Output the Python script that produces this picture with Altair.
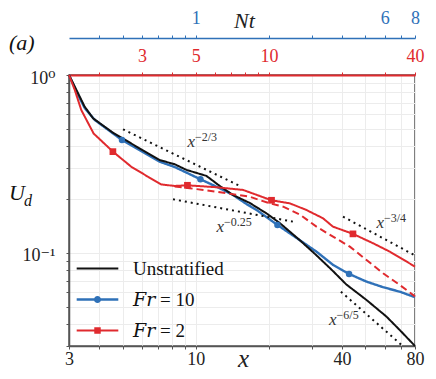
import altair as alt
import pandas as pd

# ---------------- data ----------------
SERIES = ["Unstratified", "Fr = 10", "Fr = 2"]
COLORS = ["#111111", "#2f71b8", "#e02a2e"]
BLUE, RED = COLORS[1], COLORS[2]

uns_x = [3.0, 3.27, 3.48, 3.77, 4.55, 6.35, 7.09, 8.18, 9.14, 11.05, 12.54, 14.19, 16.67,
         19.53, 22.2, 26.8, 31.4, 36.6, 41.7, 50.5, 61.0, 69.2, 80.0]
uns_y = [1.0, 0.789, 0.664, 0.571, 0.474, 0.363, 0.333, 0.315, 0.293, 0.271, 0.238, 0.212, 0.191,
         0.167, 0.147, 0.118, 0.097, 0.0795, 0.0665, 0.0544, 0.0439, 0.0369, 0.030]

fr10_x = [3.0, 3.27, 3.48, 3.83, 4.96, 6.35, 7.09, 8.18, 10.44, 12.54, 14.2, 16.15, 17.77,
          21.68, 26.8, 31.4, 36.75, 42.8, 50.5, 59.1, 69.2, 80.0]
fr10_y = [1.0, 0.772, 0.653, 0.559, 0.431, 0.355, 0.326, 0.304, 0.2595, 0.231, 0.212, 0.1885, 0.1745,
          0.1437, 0.118, 0.1017, 0.0857, 0.0762, 0.069, 0.0642, 0.0606, 0.0564]

fr2_x = [3.0, 3.17, 3.37, 3.79, 4.55, 5.42, 6.35, 7.21, 8.18, 9.23, 12.15, 15.65, 20.5,
         24.4, 28.5, 33.4, 36.75, 44.4, 53.7, 63.0, 80.0]
fr2_y = [1.0, 0.823, 0.636, 0.469, 0.371, 0.305, 0.268, 0.2425, 0.238, 0.24, 0.234, 0.226, 0.1977,
         0.190, 0.1745, 0.1567, 0.1405, 0.128, 0.1134, 0.1017, 0.0838]

fr2d_x = [8.18, 9.43, 12.15, 16.67, 20.15, 22.9, 26.8, 31.4, 36.75, 43.1, 50.5, 59.1, 69.2, 80.0]
fr2d_y = [0.236, 0.231, 0.221, 0.207, 0.190, 0.182, 0.1645, 0.1405, 0.1235, 0.1085, 0.0913,
          0.0769, 0.0661, 0.057]

fr10_mx = [4.96, 10.44, 21.68, 42.8]
fr10_my = [0.431, 0.2595, 0.1437, 0.0762]
fr2_mx = [4.55, 9.23, 20.5, 44.4]
fr2_my = [0.371, 0.24, 0.1977, 0.128]

guide_exp = ["\u22122/3", "\u22120.25", "\u22123/4", "\u22126/5"]
guide_x1 = [5.01, 8.05, 40.4, 39.6]
guide_y1 = [0.495, 0.2003, 0.160, 0.0606]
guide_x2 = [15.16, 25.1, 80.0, 71.2]
guide_y2 = [0.238, 0.150, 0.0968, 0.030]
guide_lx = [9.23, 12.15, 55.5, 35.4]
guide_ly = [0.422, 0.1405, 0.1468, 0.0419]

x_ticks = [3, 4, 5, 6, 7, 8, 9, 10, 20, 30, 40, 50, 60, 70, 80]
x_labels = [3, 10, 40, 80]
y_ticks = [0.03, 0.04, 0.05, 0.06, 0.07, 0.08, 0.09, 0.1, 0.2, 0.3, 0.4, 0.5, 0.6, 0.7, 0.8, 0.9, 1]
nt_ticks = [0.4, 0.5, 0.6, 0.7, 0.8, 0.9, 1, 2, 3, 4, 5, 6, 7, 8]
nt_labels = [1, 6, 8]
red_ticks = [2, 3, 4, 5, 6, 7, 8, 9, 10, 20, 30, 40]
red_labels = [3, 5, 10, 40]

# ---------------- layout ----------------
W, H = 346, 271
SERIF = "Liberation Serif, DejaVu Serif, serif"

rows = []
for name, style, xs_, ys_ in [("Unstratified", "solid", uns_x, uns_y),
                              ("Fr = 10", "solid", fr10_x, fr10_y),
                              ("Fr = 2", "solid", fr2_x, fr2_y),
                              ("Fr = 2", "dashed", fr2d_x, fr2d_y)]:
    for a, b in zip(xs_, ys_):
        rows.append({"series": name, "style": style, "x": a, "y": b})
curves = pd.DataFrame(rows)

markers = pd.DataFrame(
    [{"series": "Fr = 10", "x": a, "y": b} for a, b in zip(fr10_mx, fr10_my)]
    + [{"series": "Fr = 2", "x": a, "y": b} for a, b in zip(fr2_mx, fr2_my)]
)
guides = pd.DataFrame({"x1": guide_x1, "y1": guide_y1, "x2": guide_x2, "y2": guide_y2,
                       "lx": guide_lx, "ly": guide_ly, "exp": guide_exp})

xsc = alt.Scale(type="log", domain=[3, 80], nice=False)
ysc = alt.Scale(type="log", domain=[0.03, 1], nice=False)
csc = alt.Scale(domain=SERIES, range=COLORS)


def lab_expr(vals):
    return ("indexof([" + ",".join(str(v) for v in vals) +
            "], datum.value) >= 0 ? format(datum.value, 'd') : ''")


x_axis = alt.Axis(values=x_ticks, labelExpr=lab_expr(x_labels), labelFlush=False,
                  labelOverlap=False, tickSize=3, labelPadding=15, labelBaseline="alphabetic",
                  labelFont=SERIF, labelFontSize=18, labelColor="#222",
                  title="x", titleFont=SERIF, titleFontStyle="italic", titleFontSize=25,
                  titleX=174, titleY=20, titleAlign="center", titleBaseline="alphabetic", grid=True)
y_axis = alt.Axis(values=y_ticks,
                  labelExpr="datum.value == 1 ? '10\u2070' : (abs(datum.value - 0.1) < 1e-9 ? '10\u207b\u00b9' : '')",
                  labelOverlap=False, labelFlush=False, tickSize=3, labelPadding=11, labelOffset=3,
                  labelFont=SERIF, labelFontSize=18, labelColor="#222",
                  title=None, grid=True)

layers = []
first = True
for name, style in [("Fr = 10", "solid"), ("Unstratified", "solid"), ("Fr = 2", "dashed"), ("Fr = 2", "solid")]:
    sub = curves[(curves.series == name) & (curves["style"] == style)]
    dash = [1, 0] if style == "solid" else [7, 4]
    sw = 2.4 if name == "Fr = 10" else 2.0
    layers.append(
        alt.Chart(sub).mark_line(strokeWidth=sw, strokeDash=dash).encode(
            x=alt.X("x:Q", scale=xsc, axis=x_axis if first else None),
            y=alt.Y("y:Q", scale=ysc, axis=y_axis if first else None),
            color=alt.Color("series:N", scale=csc, legend=None),
        )
    )
    first = False

guide_lines = alt.Chart(guides).mark_rule(color="#111", strokeWidth=2, strokeDash=[2, 4]).encode(
    x=alt.X("x1:Q", scale=xsc, axis=None), y=alt.Y("y1:Q", scale=ysc, axis=None),
    x2="x2:Q", y2="y2:Q")
guide_x = alt.Chart(guides).mark_text(text="x", font=SERIF, fontStyle="italic", fontSize=17,
                                      align="left", baseline="middle", color="#333").encode(
    x=alt.X("lx:Q", scale=xsc, axis=None), y=alt.Y("ly:Q", scale=ysc, axis=None))
guide_e = alt.Chart(guides).mark_text(font=SERIF, fontSize=12, align="left", baseline="middle",
                                      dx=7.5, dy=-5, color="#333").encode(
    x=alt.X("lx:Q", scale=xsc, axis=None), y=alt.Y("ly:Q", scale=ysc, axis=None), text="exp:N")

circ = alt.Chart(markers[markers.series == "Fr = 10"]).mark_circle(size=42, opacity=1).encode(
    x=alt.X("x:Q", scale=xsc, axis=None), y=alt.Y("y:Q", scale=ysc, axis=None),
    color=alt.Color("series:N", scale=csc, legend=None))
sq = alt.Chart(markers[markers.series == "Fr = 2"]).mark_square(size=45, opacity=1).encode(
    x=alt.X("x:Q", scale=xsc, axis=None), y=alt.Y("y:Q", scale=ysc, axis=None),
    color=alt.Color("series:N", scale=csc, legend=None))

PATHS = [
    "M-2,-0.1H2V0.1H-2Z",
    "M-2,-0.12H2V0.12H-2Z M0.34,0A0.34,0.34 0 1,1 -0.34,0A0.34,0.34 0 1,1 0.34,0Z",
    "M-2,-0.1H2V0.1H-2Z M-0.31,-0.31H0.31V0.31H-0.31Z",
]
leg = alt.Legend(title=None, orient="none", legendX=18, legendY=183, symbolSize=433,
                 labelFont=SERIF, labelFontSize=19, labelColor="#111", labelOffset=25,
                 rowPadding=10, padding=0, symbolStrokeWidth=0, symbolOpacity=1,
                 labelExpr="replace(datum.label, 'Fr', '\U0001D439\U0001D45F')")
legend_layer = alt.Chart(pd.DataFrame({"series": SERIES})).mark_point(filled=True, opacity=0).encode(
    x=alt.value(0), y=alt.value(0),
    color=alt.Color("series:N", scale=csc, legend=leg),
    shape=alt.Shape("series:N", scale=alt.Scale(domain=SERIES, range=PATHS), legend=leg),
)

one = pd.DataFrame({"k": [0]})
t_a = alt.Chart(one).mark_text(text="(a)", font=SERIF, fontStyle="italic", fontSize=22,
                               align="left", baseline="alphabetic", color="#111").encode(
    x=alt.value(-60), y=alt.value(-25))
t_u = alt.Chart(one).mark_text(text="U", font=SERIF, fontStyle="italic", fontSize=22,
                               align="left", baseline="alphabetic", color="#111").encode(
    x=alt.value(-60), y=alt.value(125))
t_d = alt.Chart(one).mark_text(text="d", font=SERIF, fontStyle="italic", fontSize=16,
                               align="left", baseline="alphabetic", color="#111").encode(
    x=alt.value(-45), y=alt.value(131))

nt_layer = alt.Chart(pd.DataFrame({"nt": [0.3, 8]})).mark_point(opacity=0).encode(
    x=alt.X("nt:Q", scale=alt.Scale(type="log", domain=[0.3, 8], nice=False),
            axis=alt.Axis(orient="top", offset=37, values=nt_ticks, labelExpr=lab_expr(nt_labels),
                          labelFlush=False, labelOverlap=False, grid=False, domainColor=BLUE,
                          domainWidth=1.5, tickColor=BLUE, labelColor=BLUE, tickSize=3,
                          labelPadding=12, labelBaseline="alphabetic",
                          labelFont=SERIF, labelFontSize=18,
                          title="Nt", titleFont=SERIF, titleFontStyle="italic", titleFontSize=22,
                          titleX=175, titleY=-11, titleAlign="center", titleBaseline="alphabetic")),
    y=alt.value(0))
red_layer = alt.Chart(pd.DataFrame({"r": [1.5, 40]})).mark_point(opacity=0).encode(
    x=alt.X("r:Q", scale=alt.Scale(type="log", domain=[1.5, 40], nice=False),
            axis=alt.Axis(orient="top", offset=0, values=red_ticks, labelExpr=lab_expr(red_labels),
                          labelFlush=False, labelOverlap=False, grid=False, domainColor=RED,
                          domainWidth=2, tickColor=RED, labelColor=RED, tickSize=3,
                          labelPadding=11, labelBaseline="alphabetic",
                          labelFont=SERIF, labelFontSize=18, title=None)),
    y=alt.value(0))

chart = alt.layer(
    *layers, guide_lines, guide_x, guide_e, circ, sq, legend_layer, t_a, t_u, t_d, nt_layer, red_layer
).resolve_scale(
    x="independent", y="independent", color="independent", shape="independent"
).resolve_legend(color="independent", shape="independent").properties(
    width=W, height=H,
    padding={"left": 61, "top": 67, "right": 13, "bottom": 25},
    autosize=alt.AutoSizeParams(type="none"),
).configure_view(stroke="#555", strokeWidth=1.5).configure_axis(
    gridColor="#ececec", gridWidth=1, domainColor="#555", domainWidth=1.5, tickColor="#555",
    labelFont=SERIF, labelFontSize=18, labelColor="#222", titleFont=SERIF, titleColor="#222",
    titleFontWeight="normal",
)

chart.save("out.html", embed_options={"renderer": "svg", "actions": False})
